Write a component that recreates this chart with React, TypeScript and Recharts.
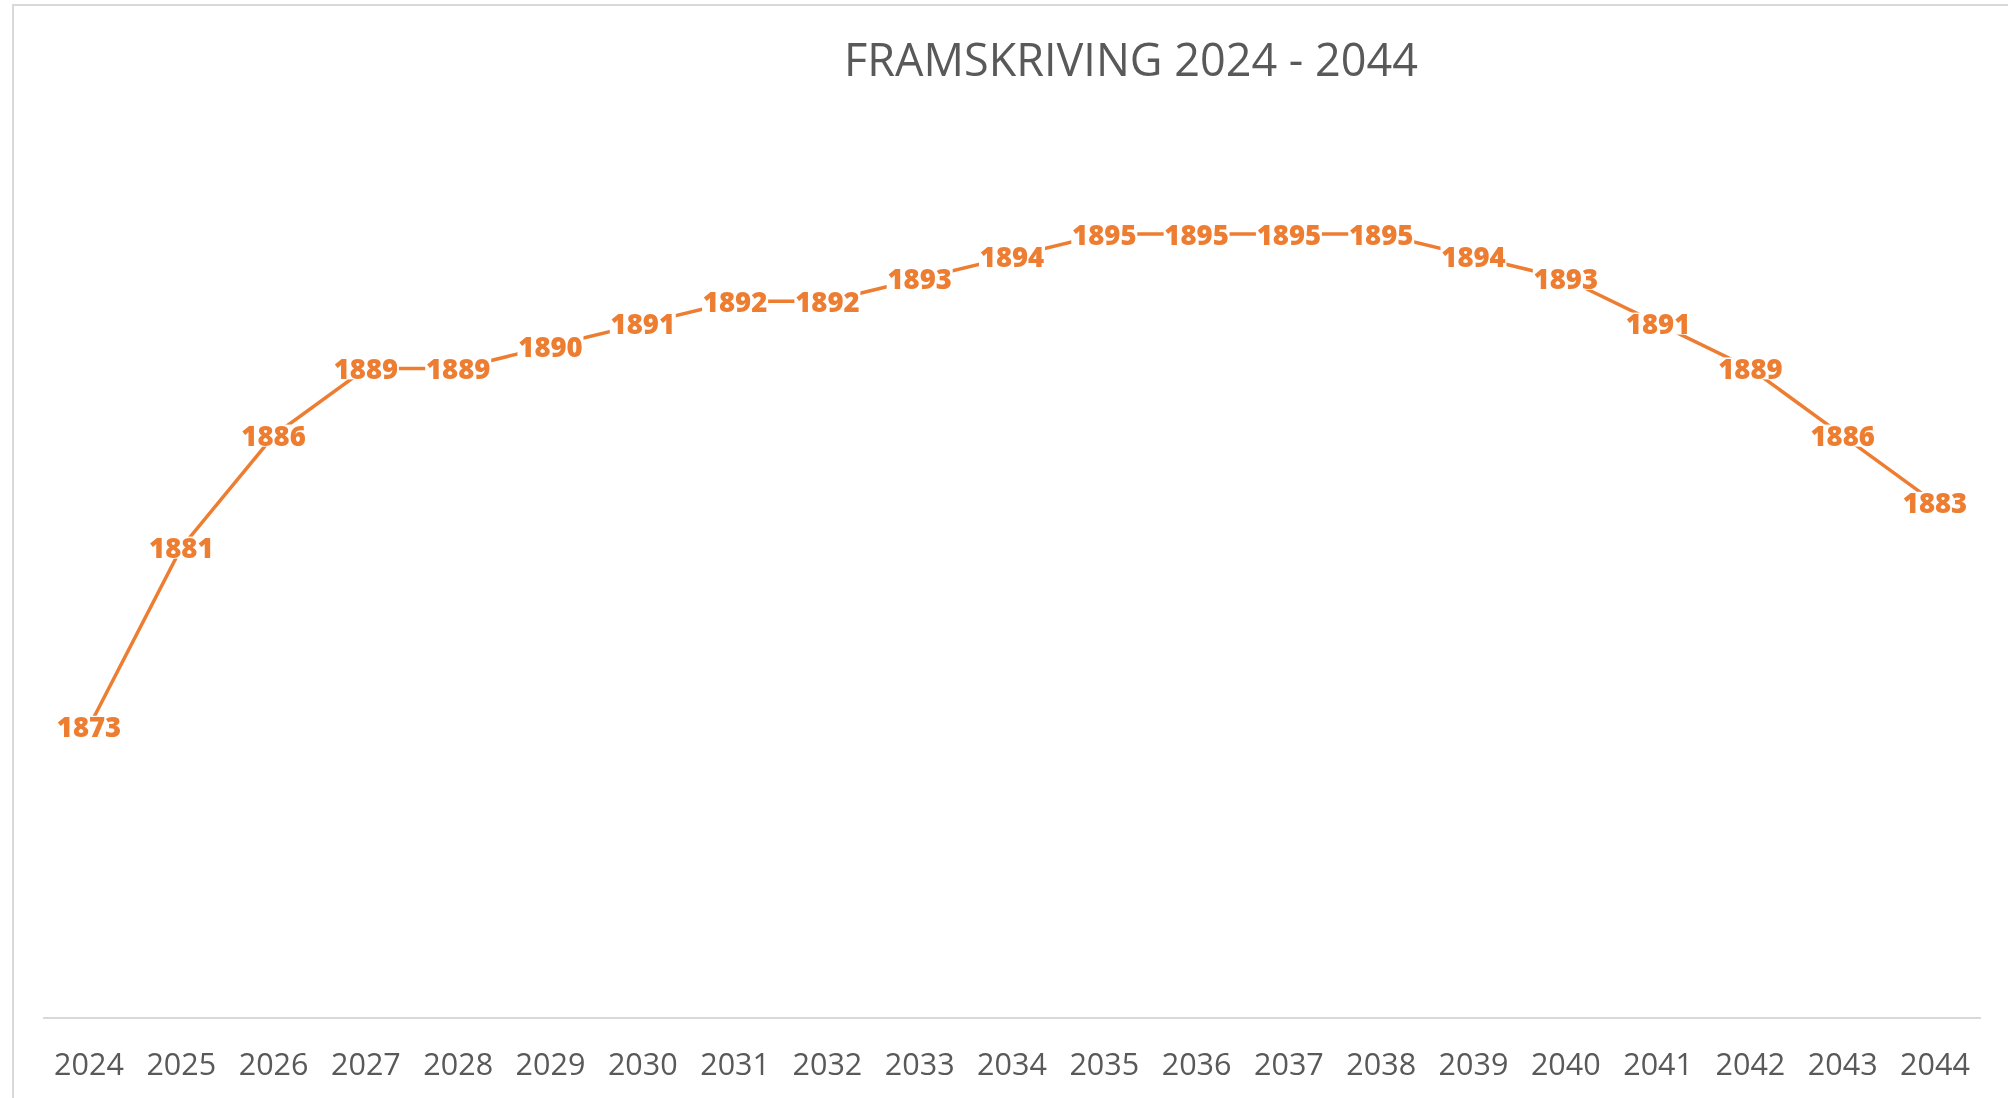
import React from 'react';
import { LineChart, Line, XAxis, YAxis, LabelList } from 'recharts';

const years = [
  '2024', '2025', '2026', '2027', '2028', '2029', '2030', '2031', '2032', '2033', '2034',
  '2035', '2036', '2037', '2038', '2039', '2040', '2041', '2042', '2043', '2044',
];
const projection = [
  1873, 1881, 1886, 1889, 1889, 1890, 1891, 1892, 1892, 1893, 1894,
  1895, 1895, 1895, 1895, 1894, 1893, 1891, 1889, 1886, 1883,
];

const data = years.map((year, i) => ({ year, value: projection[i] }));

const ORANGE = '#ED7D31';
const GREY = '#595959';
const FONT = '"Open Sans", "Noto Sans", sans-serif';

// label sits centred on the point, white box hides the line behind it
const PointLabel = (props: any) => {
  const { x, y, value } = props;
  if (x == null || y == null) return null;
  const w = 66;
  const h = 22;
  return (
    <g>
      <rect x={x - w / 2} y={y - h / 2} width={w} height={h} fill="#fff" />
      <text
        x={x}
        y={y}
        textAnchor="middle"
        dominantBaseline="central"
        fill={ORANGE}
        fontFamily={FONT}
        fontWeight={800}
        fontSize={27.5}
      >
        {value}
      </text>
    </g>
  );
};

const App: React.FC = () => {
  return (
    <div style={{ position: 'fixed', left: 0, top: 0, width: 2008, height: 1098, background: '#fff' }}>
      <div
        style={{
          position: 'absolute',
          left: 12,
          top: 4,
          right: 0,
          bottom: 0,
          borderTop: '2px solid #d9d9d9',
          borderLeft: '2px solid #d9d9d9',
        }}
      />
      <div
        style={{
          position: 'absolute',
          left: 0,
          width: 2262,
          top: 30,
          textAlign: 'center',
          fontFamily: FONT,
          fontSize: 45,
          color: GREY,
          lineHeight: '58px',
        }}
      >
        FRAMSKRIVING 2024 - 2044
      </div>
      <div style={{ position: 'absolute', left: 0, top: 0 }}>
        <LineChart
          width={2008}
          height={1098}
          data={data}
          margin={{ top: 122, right: 27, left: 43, bottom: 0 }}
        >
          <XAxis
            dataKey="year"
            height={80}
            padding={{ left: 46, right: 46 }}
            tickLine={false}
            tickSize={0}
            tickMargin={35}
            axisLine={{ stroke: '#d9d9d9', strokeWidth: 2 }}
            tick={{ fill: GREY, fontSize: 30.5, fontFamily: FONT }}
            interval={0}
          />
          <YAxis hide domain={[1860, 1900]} />
          <Line
            type="linear"
            dataKey="value"
            stroke={ORANGE}
            strokeWidth={3.5}
            dot={false}
            isAnimationActive={false}
          >
            <LabelList dataKey="value" content={<PointLabel />} />
          </Line>
        </LineChart>
      </div>
    </div>
  );
};

export default App;
